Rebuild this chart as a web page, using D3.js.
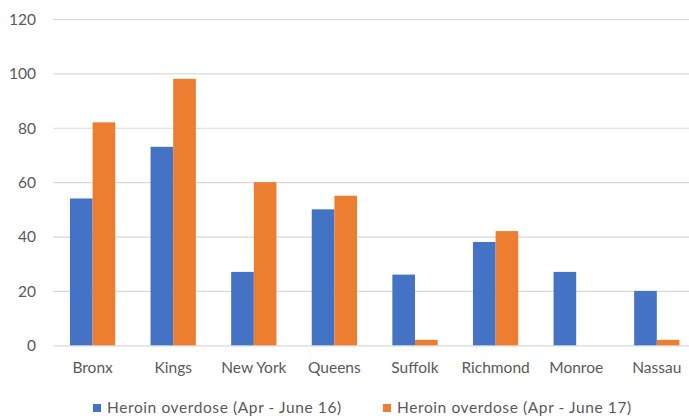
<!DOCTYPE html>
<html>
<head>
<meta charset="utf-8">
<script src="https://cdn.jsdelivr.net/npm/d3@7/dist/d3.min.js"></script>
<style>
  html, body { margin: 0; padding: 0; background: #fff; }
  svg { display: block; }
  text { font-family: Lato, "Liberation Sans", sans-serif; }
</style>
</head>
<body>
<svg id="chart" width="689" height="416"></svg>
<script>
// Heroin overdoses by county, Apr - June 2016 vs 2017
const counties = ["Bronx", "Kings", "New York", "Queens", "Suffolk", "Richmond", "Monroe", "Nassau"];
const seriesNames = ["Heroin overdose (Apr - June 16)", "Heroin overdose (Apr - June 17)"];
const values2016 = [54, 73, 27, 50, 26, 38, 27, 20];
const values2017 = [82, 98, 60, 55, 2, 42, 0, 2];
const yTicks = [0, 20, 40, 60, 80, 100, 120];
const colors = ["#4472C4", "#ED7D31"];

const svg = d3.select("#chart");

const x0 = d3.scaleBand().domain(counties).range([52.3, 697.1]).padding(0);
const x1 = d3.scaleBand().domain(seriesNames).range([0, x0.bandwidth()])
  .paddingInner(0).paddingOuter(0.78);
const y = d3.scaleLinear().domain([0, 120]).range([345.3, 19]);

// value labels on the left
const yAxis = d3.axisLeft(y).tickValues(yTicks).tickSize(0).tickPadding(0);
const gy = svg.append("g").attr("transform", "translate(36,0)").call(yAxis);
gy.select(".domain").remove();
gy.selectAll("text").attr("fill", "#595959").attr("font-size", 15.5).attr("dy", "0.35em");

// horizontal gridlines
svg.append("g").selectAll("line").data(yTicks).join("line")
  .attr("x1", 53).attr("x2", 689)
  .attr("y1", d => y(d) + 0.5).attr("y2", d => y(d) + 0.5)
  .attr("stroke", "#d9d9d9").attr("stroke-width", 1.2);

// bars
const rows = counties.map((c, i) => ({ county: c, vals: [values2016[i], values2017[i]] }));
const groups = svg.append("g").selectAll("g").data(rows).join("g")
  .attr("transform", d => `translate(${x0(d.county)},0)`);
groups.selectAll("rect")
  .data(d => d.vals.map((v, j) => ({ name: seriesNames[j], v, j })))
  .join("rect")
  .attr("x", d => x1(d.name))
  .attr("width", x1.bandwidth())
  .attr("y", d => y(d.v))
  .attr("height", d => y(0) - y(d.v))
  .attr("fill", d => colors[d.j]);

// category labels
const xAxis = d3.axisBottom(x0).tickSize(0).tickPadding(0);
const gx = svg.append("g").attr("transform", "translate(0,368)").call(xAxis);
gx.select(".domain").remove();
gx.selectAll("text").attr("fill", "#595959").attr("font-size", 15.5).attr("dy", "0.35em");

// legend
const legendX = [93, 383];
const legend = svg.append("g").selectAll("g").data(seriesNames).join("g")
  .attr("transform", (d, i) => `translate(${legendX[i]},408)`);
legend.append("rect").attr("x", 0).attr("y", -4).attr("width", 8).attr("height", 8)
  .attr("fill", (d, i) => colors[i]);
legend.append("text").attr("x", 14).attr("dy", "0.35em")
  .attr("fill", "#595959").attr("font-size", 15.5).attr("letter-spacing", 0.6)
  .text(d => d);
</script>
</body>
</html>
